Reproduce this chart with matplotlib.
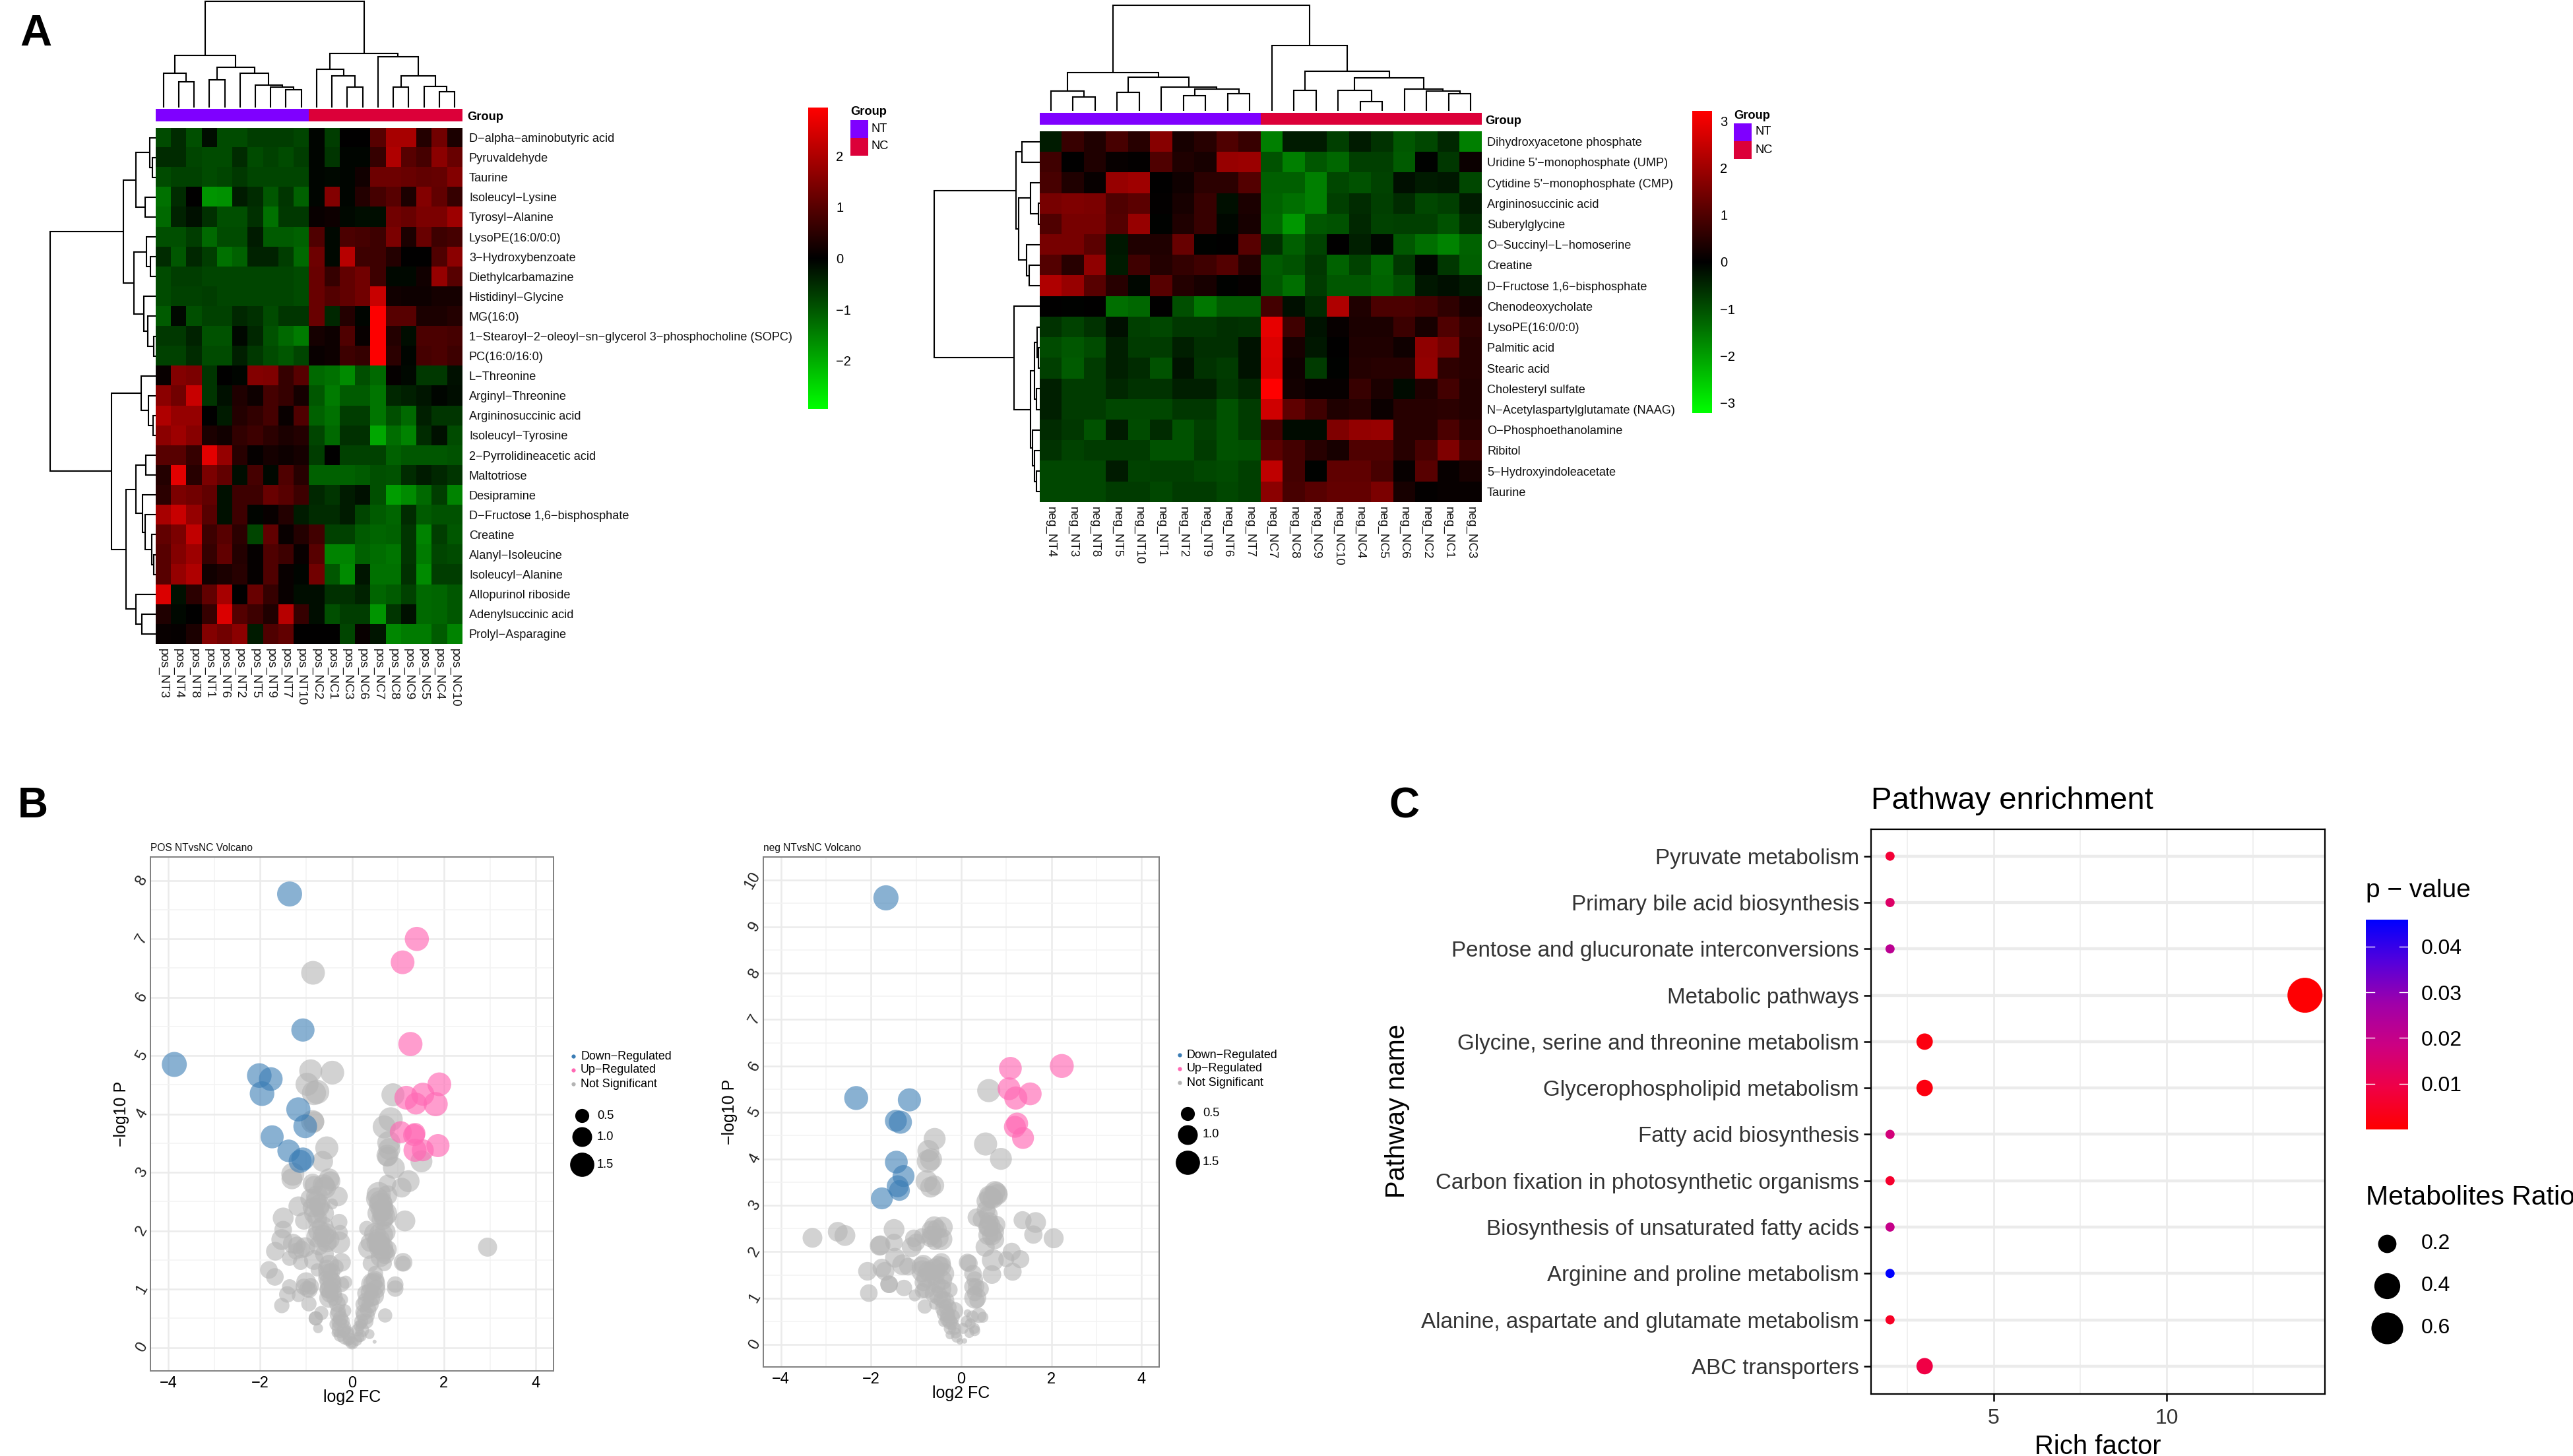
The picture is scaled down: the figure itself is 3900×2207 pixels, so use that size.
import numpy as np
import matplotlib
matplotlib.use('Agg')
import matplotlib.pyplot as plt
from matplotlib.colors import LinearSegmentedColormap, ListedColormap

plt.rcParams['font.family'] = ['Liberation Sans', 'DejaVu Sans']

W, H = 3900, 2207

# ---- panel A, positive mode
pos_rows = ['D−alpha−aminobutyric acid', 'Pyruvaldehyde', 'Taurine', 'Isoleucyl−Lysine', 'Tyrosyl−Alanine',
            'LysoPE(16:0/0:0)', '3−Hydroxybenzoate', 'Diethylcarbamazine', 'Histidinyl−Glycine', 'MG(16:0)',
            '1−Stearoyl−2−oleoyl−sn−glycerol 3−phosphocholine (SOPC)', 'PC(16:0/16:0)', 'L−Threonine',
            'Arginyl−Threonine', 'Argininosuccinic acid', 'Isoleucyl−Tyrosine', '2−Pyrrolidineacetic acid',
            'Maltotriose', 'Desipramine', 'D−Fructose 1,6−bisphosphate', 'Creatine', 'Alanyl−Isoleucine',
            'Isoleucyl−Alanine', 'Allopurinol riboside', 'Adenylsuccinic acid', 'Prolyl−Asparagine']
pos_cols = ['pos_NT3', 'pos_NT4', 'pos_NT8', 'pos_NT1', 'pos_NT6', 'pos_NT2', 'pos_NT5', 'pos_NT9', 'pos_NT7',
            'pos_NT10', 'pos_NC2', 'pos_NC1', 'pos_NC3', 'pos_NC6', 'pos_NC7', 'pos_NC8', 'pos_NC9', 'pos_NC5',
            'pos_NC4', 'pos_NC10']
pos_values = [
    [-.85, -.5, -.9, -.15, -.85, -.85, -.7, -.7, -.7, -.8, -.05, -.7, 0, 0, 1.0, 1.9, 1.9, .4, 1.3, .3],
    [-.5, -.5, -.8, -.85, -.85, -.5, -.85, -.75, -.85, -.7, -.05, -.6, -.05, -.05, .6, 2.0, 1.0, .8, 1.6, 1.2],
    [-.85, -.75, -.75, -.85, -.8, -.65, -.8, -.8, -.8, -.8, -.05, -.1, -.05, .2, 1.25, 1.25, 1.2, 1.1, 1.15, 1.5],
    [-1.3, -.5, 0, -1.7, -1.65, -.3, -.5, -1.0, -.6, -1.1, -.05, 1.5, -.05, .4, .8, 1.0, .3, 1.5, 1.1, .6],
    [-1.2, -.4, -.2, -.55, -.9, -.9, -.55, -1.3, -.65, -.65, .1, .15, -.1, -.15, -.15, 1.3, 1.2, 1.4, 1.4, 1.8],
    [-.9, -.9, -.7, -1.2, -.85, -.85, -.3, -1.05, -1.05, -1.1, .9, -.1, .85, .8, .7, 1.4, .3, 1.2, .7, .8],
    [-.5, -1.0, -.45, -.7, -1.3, -1.1, -.4, -.4, -.7, -1.2, 1.25, -.1, 2.1, .7, .7, .4, 0, 0, .9, 1.6],
    [-.85, -.7, -.7, -.8, -.8, -.8, -.8, -.8, -.8, -.85, 1.2, .6, 1.1, 1.3, .7, -.1, -.1, .2, 1.7, 1.0],
    [-.85, -.75, -.75, -.7, -.8, -.8, -.8, -.8, -.8, -.85, 1.2, .95, 1.1, 1.3, 2.3, .2, .15, .15, .25, .25],
    [-1.05, -.1, -.9, -.75, -.75, -.45, -.55, -.85, -.6, -.6, 1.2, -.45, .4, -.05, 2.9, 1.0, 1.0, .3, .3, .4],
    [-.65, -.65, -.4, -.95, -.95, -.1, -.45, -.95, -1.2, -1.4, .25, .15, .9, .1, 2.9, .4, -.15, .85, .85, .8],
    [-.75, -.75, -.5, -.85, -.85, -.35, -.65, -.85, -1.0, -.8, .1, .15, .7, .6, 2.9, .5, -.05, .8, .85, .7],
    [.1, 1.5, 1.4, -.6, 0, -.05, 1.5, 1.45, .6, 1.0, -1.2, -1.3, -1.6, -.9, -1.2, .05, -.1, -.65, -.65, -.2],
    [1.6, 1.3, 2.3, -.6, -.2, .35, .15, .8, .6, .25, -1.0, -1.4, -1.05, -1.05, -1.35, -.45, -.35, -.25, -.05, -.15],
    [2.0, 1.7, 1.7, 0, -.3, .4, .55, .8, .1, .9, -1.1, -1.3, -.7, -.7, -1.35, -.9, -1.2, -.35, -.6, -.6],
    [1.6, 1.8, 1.55, .3, .2, .55, .7, .5, .3, .4, -.8, -1.2, -.55, -.55, -1.9, -1.25, -1.5, -.5, -.2, -.85],
    [1.0, 1.0, .6, 2.6, 1.7, .45, .05, .25, .15, .25, -.7, 0, -.75, -.75, -.75, -1.1, -1.0, -1.0, -1.0, -.95],
    [.4, 2.6, .45, 1.4, 1.1, -.15, .8, -.1, .9, .45, -1.1, -1.1, -1.1, -1.05, -.9, -.95, -.5, -.3, -.45, -.6],
    [.5, 1.4, 1.3, 1.1, -.2, .7, .7, 1.2, 1.0, .7, -.45, -.6, -.3, -.2, -.9, -1.8, -1.6, -1.2, -.7, -1.5],
    [1.9, 2.3, 1.7, 1.0, -.2, .7, -.05, .1, .4, -.3, -.5, -.5, -.3, -.8, -1.05, -1.15, -.5, -1.05, -.95, -.95],
    [1.1, 1.4, 2.2, .7, 1.0, .5, -.8, 1.1, .1, .4, .75, -.75, -.75, -1.05, -1.15, -1.1, -.6, -1.5, -.7, -1.0],
    [1.0, 1.5, 1.8, .6, 1.1, .4, .05, .9, .7, .1, 1.0, -1.5, -1.5, -1.1, -1.25, -1.35, -.6, -1.4, -.8, -.85],
    [1.0, 1.7, 2.0, .2, .3, .45, .05, .9, .1, -.05, 1.3, -1.0, -1.6, -.25, -1.3, -1.3, -.55, -1.6, -.7, -.7],
    [2.5, -.2, .5, 1.1, 1.9, 0, 1.2, .6, .1, -.15, -.15, -.55, -.55, -.4, -1.15, -1.05, -.75, -1.2, -1.15, -1.0],
    [.35, -.1, 0, .6, 2.5, .95, .7, .35, 2.1, .6, -.15, -.9, -.7, -.7, -1.7, -.6, -.2, -1.2, -1.15, -1.0],
    [.1, .05, .3, 1.5, 1.3, 1.6, -.3, .9, 1.1, 0, 0, 0, -.8, .1, -.25, -1.55, -1.4, -1.4, -1.05, -1.5],
]
# trees are (height, left, right), an int is a leaf
pos_col_tree = (1.0,
                (.49, (.32, 0, (.24, 1, 2)),
                 (.38, (.26, 3, 4), (.32, 5, (.21, 6, (.19, 7, (.17, 8, 9)))))),
                (.51, (.36, 10, (.30, 11, (.19, 12, 13))),
                 (.48, 14, (.30, (.19, 15, 16), (.20, 17, (.15, 18, 19))))))
pos_row_tree = (1.0,
                (.306, (.1875, (.054, 0, (.031, 1, 2)), (.1, 3, 4)),
                 (.208, (.09, 5, (.052, 6, 7)), (.115, 8, (.073, 9, (.017, 10, 11))))),
                (.42, (.1375, 12, (.069, 13, (.027, 14, 15))),
                 (.28, (.19, (.094, 16, 17), (.125, 18, (.10, 19, (.0375, 20, (.02, 21, 22))))),
                  (.19, 23, (.13, 24, 25)))))

# ---- panel A, negative mode
neg_rows = ['Dihydroxyacetone phosphate', "Uridine 5'−monophosphate (UMP)", "Cytidine 5'−monophosphate (CMP)",
            'Argininosuccinic acid', 'Suberylglycine', 'O−Succinyl−L−homoserine', 'Creatine',
            'D−Fructose 1,6−bisphosphate', 'Chenodeoxycholate', 'LysoPE(16:0/0:0)', 'Palmitic acid', 'Stearic acid',
            'Cholesteryl sulfate', 'N−Acetylaspartylglutamate (NAAG)', 'O−Phosphoethanolamine', 'Ribitol',
            '5−Hydroxyindoleacetate', 'Taurine']
neg_cols = ['neg_NT4', 'neg_NT3', 'neg_NT8', 'neg_NT5', 'neg_NT10', 'neg_NT1', 'neg_NT2', 'neg_NT9', 'neg_NT6',
            'neg_NT7', 'neg_NC7', 'neg_NC8', 'neg_NC9', 'neg_NC10', 'neg_NC4', 'neg_NC5', 'neg_NC6', 'neg_NC2',
            'neg_NC1', 'neg_NC3']
neg_values = [
    [-.35, .7, .4, .9, .5, 1.7, .3, .5, 1.0, .7, -1.6, -.35, -.35, -.8, -.35, -.65, -1.1, -.9, -.5, -1.6],
    [.8, 0, .4, .1, .05, 1.0, .4, .3, 1.9, 1.95, -1.05, -1.6, -1.1, -1.3, -.8, -.8, -1.15, -.05, -.7, .15],
    [.9, .4, .1, 1.9, 2.0, 0, .2, .55, .55, 1.05, -1.2, -1.2, -1.6, -.9, -1.05, -.85, -.2, -.35, -.3, -.9],
    [1.5, 1.6, 1.55, 1.0, 1.15, .05, .3, .7, -.2, .35, -1.25, -1.4, -1.6, -.8, -.55, -.8, -.55, -.9, -.8, -.35],
    [1.0, 1.5, 1.5, 1.05, 1.9, -.05, .4, .7, -.1, .3, -1.3, -1.9, -1.1, -1.05, -.5, -.85, -.8, -.8, -1.05, -.55],
    [1.5, 1.5, 1.15, -.3, .4, .4, 1.3, -.05, 0, 1.1, -.6, -1.2, -.85, 0, -.4, -.1, -1.1, -1.4, -1.65, -1.25],
    [1.05, .5, 1.8, -.35, .8, .45, .65, .8, 1.05, .45, -1.15, -1.05, -.7, -1.25, -.85, -1.3, -.7, -.1, -.7, -1.2],
    [2.2, 1.9, 1.1, .5, -.1, 1.1, .45, .3, -.05, .1, -1.1, -1.4, -.75, -1.1, -1.1, -1.25, -1.0, -.3, -.2, -.35],
    [0, -.05, 0, -1.4, -1.3, 0, -1.0, -1.5, -1.15, -1.15, .85, -.2, -.55, 2.2, .4, .95, .95, .85, .6, .3],
    [-.65, -.85, -.65, -.2, -.8, -.9, -.7, -.7, -.6, -.65, 2.9, .8, -.25, .1, .35, .35, .75, .3, 1.0, .6],
    [-.95, -1.1, -.95, -.4, -.75, -.75, -.4, -.6, -.6, -.25, 2.75, .3, -.3, 0, .4, .4, .2, 1.8, 1.45, .5],
    [-.8, -1.15, -.75, -.4, -.55, -1.05, -.25, -.65, -.75, -.25, 2.7, .2, -.75, -.05, .45, .5, .5, 1.85, .6, .5],
    [-.4, -.75, -.75, -.5, -.65, -.65, -.4, -.4, -.7, -.5, 3.2, .25, .1, .1, .7, .35, -.15, .4, .85, .45],
    [-.4, -.75, -.75, -.9, -.9, -.9, -.7, -.7, -1.05, -.75, 2.6, 1.2, .8, .4, .5, .15, .5, .5, .55, .45],
    [-.55, -.7, -1.05, -.35, -.95, -.55, -1.05, -.8, -1.05, -.75, .85, -.15, -.15, 1.6, 1.85, 1.9, .5, .5, .95, .55],
    [-.65, -.85, -.75, -.75, -.75, -1.05, -1.05, -.75, -1.05, -1.0, 1.15, .85, .5, .3, 1.0, 1.0, .5, .9, 1.6, .8],
    [-.9, -.9, -.9, -.35, -.85, -.8, -.8, -.9, -.95, -.8, 2.4, .85, -.05, 1.2, 1.2, .9, .1, 1.1, .1, .3],
    [-.9, -.9, -.9, -.75, -.75, -.9, -.75, -.75, -.9, -.8, 1.75, .9, 1.1, 1.25, 1.25, 1.55, .3, .05, .1, .1],
]
neg_col_tree = (1.0,
                (.36, (.187, 0, (.133, 1, 2)),
                 (.32, (.176, 3, 4), (.223, 5, (.205, (.144, 6, 7), (.165, 8, 9))))),
                (.62, 10,
                 (.374, (.194, 11, 12),
                  (.31, (.194, 13, (.09, 14, 15)), (.209, 16, (.187, 17, (.165, 18, 19)))))))
neg_row_tree = (1.0,
                (.222, (.167, 0, 1),
                 (.2, (.089, 2, (.011, 3, 4)), (.122, 5, (.1, 6, 7)))),
                (.244, 8,
                 (.09, (.05, (.025, 9, (.012, 10, 11)), (.03, 12, 13)),
                  (.07, 14, (.05, 15, (.03, 16, 17))))))

# ---- panel B, positive mode volcano
pos_gray_x = [-.86, -.50, -.59, -.31, -.91, -.76, -.86, -.71, -1.17, -.43, -1.50, -1.50, -1.05, -.28, -.76, -.64,
              -.62, -.55, -1.53, -.26, -.28, -1.29, -1.02, -1.67, -1.36, -1.12, -.83, -.50, -.23, -.35, -1.81,
              -1.68, -.76, -.52, -.47, -.14, -.23, -1.36, -1.0, -1.05, -.93, -1.41, -1.17, -.52, -.50, -.23,
              -1.53, -.94, -.79, -.79, -.67, -.31, -.16, -.35, -.74, -.23, -.35, -.14, 0, -.28, -.26, -.09, -.57,
              .77, .77, .58, .77, .63, .72, .68, 1.15, .32, .63, .72, .39, .36, .63, .77, .58, .41, .70, 1.11,
              1.11, .51, .46, .29, .48, .94, .94, .39, .24, .72, .29, .15, .20, .38, .49, .15, 0,
              -.90, -.43, -.98, -.76, -.83, -.86, -.83, .89, -.55, -.64, .84, .70, .80, .81, .77, .91, 1.51,
              -1.29, -1.31, -.47, -.62, -.83, 1.23, 1.08, -.85, 2.95,
              -.78, -.70, -.82, -.62, -.72, -.76, -.58, -.50, -.72, -.60, -.55, -.45, -.50, -.42, -.48, -.38,
              -.32, -.30, -.25, -.20, -.18, -.10, -.06, -1.20, -1.10, -1.22, -.97, -.90, -.45, -.40,
              .55, .62, .66, .58, .70, .66, .50, .55, .60, .68, .72, .62, .50, .45, .52, .38, .42, .30, .35, .25,
              .30, .20, .22, .12, .10, .18]
pos_gray_y = [2.81, 2.89, 2.74, 2.59, 2.55, 2.59, 2.40, 2.40, 2.42, 2.46, 2.22, 2.02, 2.17, 2.15, 2.21, 2.06,
              1.91, 1.80, 1.85, 1.97, 1.80, 1.78, 1.72, 1.65, 1.53, 1.46, 1.50, 1.42, 1.46, 1.38, 1.33,
              1.21, 1.33, 1.27, 1.12, 1.12, 1.08, 1.04, 1.12, 1.04, .99, .91, .89, .99, .85, .82,
              .72, .75, .50, .50, .59, .57, .63, .40, .33, .33, .25, .20, .08, .44, .21, .12, 1.19,
              3.27, 2.81, 2.63, 2.61, 2.44, 2.29, 2.40, 2.17, 2.04, 1.93, 1.98, 1.80, 1.70, 1.72, 1.68, 1.85, 1.44, 1.44,
              1.46, 1.44, 1.27, 1.08, .93, .89, 1.08, 1.01, .74, .74, .55, .55, .37, .40, .23, .10, .18, .06,
              4.74, 4.71, 4.51, 4.38, 4.36, 3.87, 3.87, 4.33, 3.42, 3.19, 3.91, 3.78, 3.51, 3.40, 3.29, 3.08, 3.19,
              2.97, 2.89, 2.85, 2.78, 2.78, 2.85, 2.74, 6.42, 1.72,
              2.50, 2.45, 2.30, 2.30, 2.00, 1.90, 1.95, 1.85, 1.75, 1.60, 1.35, 1.30, 1.00, 1.05, .92, .85,
              .75, .62, .50, .45, .30, .25, .15, 1.75, 1.68, 1.65, 1.00, 1.05, 1.15, .95,
              2.55, 2.50, 2.35, 2.30, 2.25, 2.20, 1.95, 1.80, 1.75, 1.65, 1.60, 1.55, 1.15, 1.10, 1.00, .95, .85, .80, .65, .60,
              .45, .45, .30, .30, .12, .20]
pos_gray_v = [1, 1.11, 1.23, 1, 1, 1.23, 1, 1, 1, .31, 1.11, .79, .79, .69, 1, 1.23,
              1.23, 1, 1.11, .6, 1.23, 1, 1, .89, .6, .6, 1, 1, .89, .6, .79,
              .79, .44, 1, 1.23, .44, .6, .6, 1, .69, .69, .69, .44, .79, 1, .44,
              .6, .6, .52, .52, .52, .69, .44, .44, .25, 1, .2, .79, .44, .6, .44, .31, .6,
              1, .79, 1.49, 1, 1.49, 1.49, .89, 1.11, .6, 1.49, 1.11, .89, 1.11, 1.49, .89, 1.23, .69, .6,
              .89, .6, .6, 1.49, .69, 1, .69, .69, .79, .6, .52, .89, .31, .31, .25, .04, .31, .2,
              1.36, 1.44, 1.36, 1.5, 1.49, 1.36, 1.11, 1.36, 1.36, 1.11, 1.49, 1.36, 1.36, 1.23, 1.23, 1.23, 1.23,
              1.36, 1.11, 1, 1.23, .89, 1.23, 1, 1.44, .93,
              1.1, 1.1, 1.1, 1.1, 1.2, 1.2, 1.2, 1.1, 1.0, .9, .8, .8, .9, .8, .8, .7,
              .7, .6, .6, .5, .5, .5, .4, .8, .8, .7, .7, .7, .8, .7,
              1.3, 1.3, 1.3, 1.3, 1.2, 1.2, 1.2, 1.2, 1.1, 1.1, 1.0, 1.0, .9, .9, .9, .8, .8, .7, .7, .7,
              .6, .5, .5, .4, .3, .4]
pos_down_x = [-1.36, -1.07, -3.87, -2.02, -1.77, -1.96, -1.17, -1.02, -1.74, -1.38, -1.07, -1.13]
pos_down_y = [7.77, 5.44, 4.85, 4.66, 4.60, 4.35, 4.08, 3.79, 3.61, 3.37, 3.23, 3.19]
pos_down_v = [1.6, 1.38, 1.6, 1.55, 1.44, 1.55, 1.49, 1.44, 1.36, 1.31, 1.36, 1.36]
pos_up_x = [1.41, 1.10, 1.27, 1.90, 1.18, 1.54, 1.39, 1.82, 1.06, 1.35, 1.37, 1.87, 1.37, 1.54]
pos_up_y = [7.0, 6.6, 5.2, 4.51, 4.28, 4.34, 4.18, 4.17, 3.69, 3.64, 3.67, 3.46, 3.38, 3.38]
pos_up_v = [1.49, 1.44, 1.49, 1.44, 1.44, 1.36, 1.23, 1.49, 1.23, 1.23, 1.11, 1.36, 1.36, 1.23]

# ---- panel B, negative mode volcano
neg_gray_x = [-3.30, -2.74, -2.58, -1.49, -1.79, -1.81, -1.49, -1.05, -1.10, -.88, -.66, -.42, -.54, -.44, -.59, -.69,
              -1.47, -1.30, -1.18, -1.76, -1.69, -2.08, -1.60, -1.60, -1.27, -2.05, -.44, -.84, -.86, -.40, -.42, -.84,
              -1.03, -.86, -.44, -.25, -.81, -.59, -.42, -.35, -.15, -.25, -.15, -.40, -.10, -.25, -.03, .07,
              -.30, -.20, -.59, -.74, -.54,
              .63, .73, .70, .14, .17, .26, .68, .26, .43, .31, .14, .39, .48, .29, .04,
              .61, .54, -.59, -.73, -.73, -.67, .88, -.77, -.60, -.68, .78, .65, .56, .80, .34, .60, .60, .78,
              1.36, 1.65, 1.60, 2.05, .53, .74, 1.12, 1.31, 1.14, 1.0,
              -.88, -.78, -.59, -.44, -.78, -.60, -.50, -.35, -.30, -.20, -.25, -.12, -.30, -.38, -.50, -.65, -.50,
              -.60, -1.0, .30, .33, .30, .35, .25, .20, .30, .18, .12, .68, .62, .60, .55, .45, .70, .75, .62]
neg_gray_y = [2.30, 2.43, 2.35, 2.48, 2.14, 2.13, 2.20, 2.29, 2.10, 2.34, 2.46, 2.53, 2.48, 2.27, 2.20, 2.29,
              1.87, 1.72, 1.68, 1.65, 1.58, 1.58, 1.30, 1.30, 1.22, 1.11, 1.77, 1.72, 1.58, 1.53, 1.39, 1.34,
              1.06, 1.16, 1.20, 1.18, .82, .87, .97, .68, .73, .49, .35, .49, .16, .21, .07, .08,
              .63, .45, 1.49, 1.58, 1.30,
              2.55, 2.43, 1.82, 1.77, 1.75, 1.53, 1.51, 1.25, 1.20, 1.01, .68, .63, .59, .35, .35,
              5.47, 4.32, 4.43, 4.17, 3.95, 3.99, 4.0, 3.52, 3.43, 3.39, 3.26, 3.17, 3.09, 3.23, 2.74, 2.53, 2.36, 2.58,
              2.68, 2.63, 2.37, 2.29, 2.10, 2.26, 2.0, 1.84, 1.57, 1.84,
              1.68, 1.44, 1.63, 1.68, 1.20, 1.10, 1.05, .95, .80, .60, .35, .25, .55, .78, 1.70, 2.35, 2.30,
              2.55, 2.20, 1.40, 1.25, 1.10, .95, .60, .45, .30, .25, .50, 2.35, 2.65, 2.80, 2.90, 2.70, 3.15, 3.30, 3.20]
neg_gray_v = [1, 1, 1.11, 1.11, 1, 1, .79, .79, 1, .6, 1, 1.11, 1, 1.23, .6, .79,
              1, 1.11, .79, .89, .89, .89, .79, .79, .69, .79, .89, 1, 1.23, 1.23, 1, .79,
              .37, .6, 1, .6, .52, .31, .79, .79, .79, .6, .44, .25, .31, .2, .11, .08,
              .6, .44, 1, 1, .79,
              1.23, 1, 1.23, .79, .79, .79, .89, .79, .69, 1.23, .15, .6, .31, .31, .31,
              1.37, 1.37, 1.23, 1.23, 1.37, 1.23, 1.23, 1.23, 1.02, 1.1, 1.23, 1.23, 1.02, 1.1, .83, 1.02, 1.02, .83,
              .83, 1.1, .86, 1.02, .94, .94, .83, .83, .83, .65,
              1.0, 1.0, 1.1, 1.0, .9, .9, .9, .8, .8, .6, .4, .3, .6, .8, 1.0, 1.0, 1.0,
              1.0, .8, .7, .7, .6, .6, .4, .3, .3, .25, .35, 1.0, .9, .9, .9, .8, 1.1, 1.1, 1.1]
neg_down_x = [-1.67, -2.33, -1.15, -1.45, -1.35, -1.44, -1.28, -1.41, -1.37, -1.76]
neg_down_y = [9.62, 5.31, 5.27, 4.82, 4.79, 3.93, 3.63, 3.41, 3.32, 3.15]
neg_down_v = [1.62, 1.47, 1.37, 1.23, 1.37, 1.33, 1.23, 1.23, 1.1, 1.23]
neg_up_x = [1.09, 2.23, 1.06, 1.53, 1.21, 1.24, 1.19, 1.37]
neg_up_y = [5.95, 6.0, 5.51, 5.4, 5.31, 4.76, 4.69, 4.45]
neg_up_v = [1.33, 1.47, 1.33, 1.33, 1.37, 1.23, 1.23, 1.23]
size_levels = [0.5, 1.0, 1.5]
volcano_legend = ['Down−Regulated', 'Up−Regulated', 'Not Significant']

# ---- panel C
pathways = ['Pyruvate metabolism', 'Primary bile acid biosynthesis', 'Pentose and glucuronate interconversions',
            'Metabolic pathways', 'Glycine, serine and threonine metabolism', 'Glycerophospholipid metabolism',
            'Fatty acid biosynthesis', 'Carbon fixation in photosynthetic organisms',
            'Biosynthesis of unsaturated fatty acids', 'Arginine and proline metabolism',
            'Alanine, aspartate and glutamate metabolism', 'ABC transporters']
rich_factor = [2, 2, 2, 14, 3, 3, 2, 2, 2, 2, 2, 3]
p_value = [.007, .014, .022, .0005, .002, .002, .017, .006, .02, .046, .005, .009]
ratio = [.05, .05, .05, .73, .16, .16, .05, .05, .05, .05, .05, .16]
ratio_levels = [0.2, 0.4, 0.6]
p_ticks = [0.01, 0.02, 0.03, 0.04]

heat_cmap = LinearSegmentedColormap.from_list('gbr', ['#00ff00', '#000000', '#ff0000'])
p_cmap = LinearSegmentedColormap.from_list('rb', ['#ff0000', '#f00046', '#cd0082', '#a000aa', '#5500dc', '#0000ff'])
group_cmap = ListedColormap(['#7f00ff', '#dc0039'])

fig = plt.figure(figsize=(W / 100, H / 100), dpi=100)


def add_ax(x0, y0, x1, y1):
    # pixel box of the full image, y going down
    return fig.add_axes([x0 / W, 1 - y1 / H, (x1 - x0) / W, (y1 - y0) / H])


overlay = add_ax(0, 0, W, H)
overlay.set_xlim(0, W)
overlay.set_ylim(H, 0)
overlay.axis('off')
overlay.set_zorder(10)
overlay.patch.set_alpha(0)


def draw_tree(ax, node, horizontal):
    if isinstance(node, int):
        return node + .5, 0
    h, left, right = node
    p1, h1 = draw_tree(ax, left, horizontal)
    p2, h2 = draw_tree(ax, right, horizontal)
    a, b = [p1, p1, p2, p2], [h1, h, h, h2]
    if horizontal:
        a, b = b, a
    ax.plot(a, b, color='black', lw=1.5, solid_joinstyle='miter', solid_capstyle='butt', clip_on=False)
    return (p1 + p2) / 2, h


def heatmap(values, rows, cols, col_tree, row_tree, box, annot, col_box, row_box, label_x, col_y, vmax):
    x0, y0, x1, y1 = box
    ax = add_ax(*box)
    ax.imshow(values, cmap=heat_cmap, vmin=-vmax, vmax=vmax, aspect='auto', interpolation='nearest')
    ax.axis('off')
    n = len(rows)
    dy = (y1 - y0) / n
    for i, name in enumerate(rows):
        overlay.text(label_x, y0 + (i + .5) * dy + 2, name, fontsize=13.1, va='center', ha='left', color='#111111')
    dx = (x1 - x0) / len(cols)
    for i, name in enumerate(cols):
        overlay.text(x0 + (i + .5) * dx, col_y, name, fontsize=13.6, rotation=270, va='top', ha='center',
                     color='#111111')
    a = add_ax(x0, annot[0], x1, annot[1])
    a.imshow([[0] * 10 + [1] * 10], cmap=group_cmap, aspect='auto', interpolation='nearest')
    a.axis('off')
    overlay.text(label_x - 3, (annot[0] + annot[1]) / 2 + 3, 'Group', fontsize=13.2, fontweight='bold', va='center')

    t = add_ax(*col_box)
    t.set_xlim(0, len(cols))
    t.set_ylim(0, 1)
    t.axis('off')
    draw_tree(t, col_tree, False)
    r = add_ax(*row_box)
    r.set_xlim(1, 0)
    r.set_ylim(n, 0)
    r.axis('off')
    draw_tree(r, row_tree, True)


def colorbar(box, vmax, ticks, fontsize=14.5):
    ax = add_ax(*box)
    ax.imshow(np.linspace(vmax, -vmax, 256)[:, None], cmap=heat_cmap, vmin=-vmax, vmax=vmax, aspect='auto',
              extent=[0, 1, -vmax, vmax])
    ax.set_xticks([])
    ax.yaxis.tick_right()
    ax.set_yticks(ticks)
    ax.set_yticklabels([str(t).replace('-', '−') for t in ticks], fontsize=fontsize)
    ax.tick_params(axis='y', length=0, pad=9)
    for s in ax.spines.values():
        s.set_visible(False)


def group_legend(x, y):
    overlay.text(x, y, 'Group', fontsize=13.2, fontweight='bold', va='center')
    for i, (name, color) in enumerate(zip(['NT', 'NC'], ['#7f00ff', '#dc0039'])):
        top = y + 12 + i * 27
        overlay.fill_between([x, x + 27], top, top + 27, color=color, lw=0)
        overlay.text(x + 32, top + 13, name, fontsize=13.2, va='center')


heatmap(pos_values, pos_rows, pos_cols, pos_col_tree, pos_row_tree, (236, 193.5, 700.7, 976), (165, 184),
        (236, 2, 700.7, 163), (76, 193.5, 236, 976), 711, 983, 2.93)
colorbar((1225, 163, 1255, 620), 2.94, [-2, -1, 0, 1, 2])
group_legend(1289, 170)

heatmap(neg_values, neg_rows, neg_cols, neg_col_tree, neg_row_tree, (1576, 199, 2246, 761), (171, 189),
        (1576, 8, 2246, 168), (1416, 199, 1576, 761), 2254, 768, 3.22)
colorbar((2565, 168, 2595, 626), 3.22, [-3, -2, -1, 0, 1, 2, 3])
group_legend(2628, 175)


def volcano(gray, down, up, box, xlim, ylim, yticks, title, xlab_y, ylab_x, leg_x, leg_ys, size_x, size_ys):
    ax = add_ax(*box)
    ax.set_axisbelow(True)
    k = 466
    ax.scatter(gray[0], gray[1], s=k * np.array(gray[2]), c='#b4b4b4', alpha=.6, linewidths=0)
    ax.scatter(down[0], down[1], s=k * np.array(down[2]), c='#3b7db5', alpha=.6, linewidths=0)
    ax.scatter(up[0], up[1], s=k * np.array(up[2]), c='#ff69b4', alpha=.65, linewidths=0)
    ax.set_xlim(*xlim)
    ax.set_ylim(*ylim)
    ax.set_xticks([-4, -2, 0, 2, 4])
    ax.set_xticklabels(['−4', '−2', '0', '2', '4'], fontsize=17)
    ax.set_xticks([-3, -1, 1, 3], minor=True)
    ax.set_yticks(yticks)
    ax.set_yticklabels([str(t) for t in yticks], fontsize=17, rotation=60, va='center', color='#222222')
    ax.set_yticks([t + .5 for t in yticks[:-1]], minor=True)
    ax.tick_params(which='both', length=0)
    ax.tick_params(axis='x', pad=6)
    ax.tick_params(axis='y', pad=0)
    ax.grid(which='major', color='#ebebeb', lw=1.8)
    ax.grid(which='minor', color='#f3f3f3', lw=1.2)
    for s in ax.spines.values():
        s.set_color('#7f7f7f')
        s.set_linewidth(1.4)
    x0, y0, x1, y1 = box
    overlay.text(x0, y0 - 6, title, fontsize=11.2, va='bottom', ha='left', color='#111111')
    overlay.text((x0 + x1) / 2, xlab_y, 'log2 FC', fontsize=18, va='center', ha='center')
    overlay.text(ylab_x, (y0 + y1) / 2, '−log10 P', fontsize=18, va='center', ha='center', rotation=90)
    for name, color, ly in zip(volcano_legend, ['#3b7db5', '#ff69b4', '#b4b4b4'], leg_ys):
        overlay.scatter([leg_x], [ly], s=20, c=color, linewidths=0)
        overlay.text(leg_x + 11, ly, name, fontsize=12.9, va='center')
    for lev, ly in zip(size_levels, size_ys):
        overlay.scatter([size_x], [ly], s=k * lev, c='black', linewidths=0)
        overlay.text(size_x + 23, ly, str(lev), fontsize=13.2, va='center')


volcano((pos_gray_x, pos_gray_y, pos_gray_v), (pos_down_x, pos_down_y, pos_down_v), (pos_up_x, pos_up_y, pos_up_v),
        (228, 1298.5, 838.6, 2078), (-4.39, 4.38), (-.40, 8.41), list(range(0, 9)), 'POS NTvsNC Volcano',
        2118, 184, 869, [1601, 1622, 1643], 882, [1691, 1723, 1765])
volcano((neg_gray_x, neg_gray_y, neg_gray_v), (neg_down_x, neg_down_y, neg_down_v), (neg_up_x, neg_up_y, neg_up_v),
        (1157, 1299, 1757, 2072), (-4.39, 4.39), (-.48, 10.5), list(range(0, 11)), 'neg NTvsNC Volcano',
        2112, 1106, 1788, [1599, 1620, 1641], 1800, [1688, 1720, 1762])

# panel C
ax = add_ax(2836, 1257, 3523.6, 2113)
ax.set_axisbelow(True)
ypos = np.arange(len(pathways))
ax.scatter(rich_factor, ypos, s=1996 * np.array(ratio), c=p_value, cmap=p_cmap, vmin=0, vmax=.0459, linewidths=0,
           clip_on=False, zorder=3)
ax.set_xlim(1.45, 14.57)
ax.set_ylim(11.6, -.58)
ax.set_yticks(ypos)
ax.set_yticklabels(pathways, fontsize=23.9, color='#333333')
ax.set_xticks([5, 10])
ax.set_xticklabels(['5', '10'], fontsize=23, color='#333333')
ax.set_xticks([2.5, 7.5, 12.5], minor=True)
ax.tick_params(which='minor', length=0)
ax.tick_params(which='major', length=8, width=1.8, pad=5)
ax.tick_params(axis='x', which='major', length=8, pad=8)
ax.grid(axis='y', color='#ebebeb', lw=3.2)
ax.grid(axis='x', which='major', color='#ebebeb', lw=2)
ax.grid(axis='x', which='minor', color='#f0f0f0', lw=1.4)
for s in ax.spines.values():
    s.set_linewidth(1.6)

overlay.text(2836, 1214, 'Pathway enrichment', fontsize=34, va='center', ha='left')
overlay.text(3180, 2193, 'Rich factor', fontsize=28.8, va='center', ha='center')
overlay.text(2118, 1684, 'Pathway name', fontsize=28.7, va='center', ha='center', rotation=90)
overlay.text(3586, 1350, 'p − value', fontsize=28, va='center', ha='left')
overlay.text(3586, 1815, 'Metabolites Ratio', fontsize=29.5, va='center', ha='left', clip_on=True)

cb = add_ax(3586, 1394, 3650, 1712)
cb.imshow(np.linspace(.0459, 0, 256)[:, None], cmap=p_cmap, vmin=0, vmax=.0459, aspect='auto', extent=[0, 1, 0, .0459])
cb.set_xticks([])
cb.yaxis.tick_right()
cb.set_yticks(p_ticks)
cb.set_yticklabels([str(t) for t in p_ticks], fontsize=23)
cb.tick_params(axis='y', length=0, pad=14)
for s in cb.spines.values():
    s.set_visible(False)
for t in p_ticks:
    cb.plot([0, .2], [t, t], color='white', lw=1)
    cb.plot([.8, 1], [t, t], color='white', lw=1)

for lev, ly in zip(ratio_levels, [1885, 1949, 2013]):
    overlay.scatter([3618], [ly], s=1996 * lev, c='black', linewidths=0)
    overlay.text(3670, ly, str(lev), fontsize=23, va='center')

overlay.text(30, 52, 'A', fontsize=48, fontweight='bold', va='center')
overlay.text(27, 1222, 'B', fontsize=46, fontweight='bold', va='center')
overlay.text(2105, 1222, 'C', fontsize=46, fontweight='bold', va='center')

fig.savefig('out.png', dpi=100)
